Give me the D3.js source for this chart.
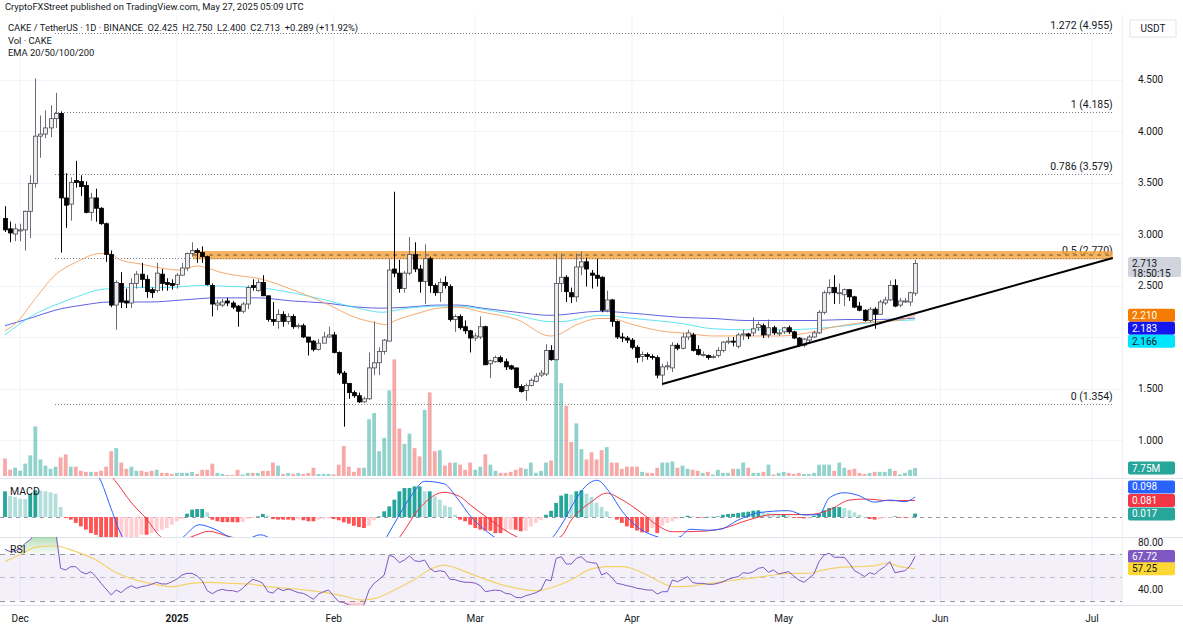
<!DOCTYPE html>
<html><head><meta charset="utf-8">
<script src="https://cdn.jsdelivr.net/npm/d3@7"></script>
<style>
body{margin:0;background:#fff;}
svg{display:block;font-family:Roboto,"Noto Sans",sans-serif;}
</style></head><body>
<svg id="c" width="1183" height="633"></svg>
<script>
// ---------------- DATA ----------------
const startDate = "2024-11-28"; // first daily candle
const opens = [3.15,3.05,3.00,3.03,3.04,3.22,3.49,3.95,3.97,4.03,
4.12,4.17,3.35,3.29,3.52,3.51,3.47,3.21,3.35,3.25,
3.10,2.80,2.31,2.52,2.35,2.33,2.52,2.61,2.56,2.46,
2.45,2.61,2.53,2.52,2.51,2.60,2.67,2.81,2.84,2.82,
2.78,2.50,2.31,2.31,2.35,2.33,2.30,2.25,2.32,2.50,
2.45,2.53,2.40,2.17,2.15,2.22,2.15,2.20,2.10,2.11,
2.00,1.96,1.88,1.94,2.00,2.02,1.85,1.65,1.55,1.46,
1.43,1.37,1.40,1.70,1.75,1.86,1.96,2.66,2.62,2.47,
2.62,2.80,2.66,2.54,2.76,2.50,2.43,2.53,2.49,2.17,
2.20,2.10,2.06,1.99,2.00,2.10,1.74,1.76,1.80,1.76,
1.72,1.70,1.52,1.48,1.53,1.57,1.63,1.64,1.87,1.78,
2.52,2.58,2.43,2.39,2.68,2.73,2.62,2.60,2.58,2.26,
2.36,2.15,2.00,1.99,1.97,1.90,1.81,1.83,1.81,1.80,
1.63,1.71,1.70,1.92,1.89,2.00,2.02,1.88,1.83,1.82,
1.80,1.82,1.87,1.95,1.96,1.91,2.02,2.03,2.04,2.09,
2.11,2.02,2.09,2.04,2.05,2.09,2.05,1.99,1.92,1.97,
2.00,2.04,2.24,2.43,2.48,2.43,2.41,2.46,2.39,2.30,
2.26,2.16,2.27,2.22,2.33,2.36,2.50,2.31,2.35,2.34,2.425];
const highs = [3.27,3.12,3.10,3.10,3.23,3.57,4.51,4.15,4.20,4.25,
4.37,4.19,3.59,3.55,3.71,3.57,3.51,3.40,3.44,3.26,
3.11,2.84,2.55,2.63,2.47,2.57,2.64,2.72,2.60,2.48,
2.72,2.66,2.57,2.56,2.62,2.72,2.82,2.92,2.86,2.88,
2.79,2.52,2.36,2.37,2.38,2.35,2.31,2.34,2.50,2.56,
2.56,2.60,2.40,2.34,2.27,2.25,2.23,2.22,2.13,2.13,
2.00,1.97,1.98,2.05,2.10,2.05,1.86,1.67,1.55,1.48,
1.46,1.42,1.85,2.15,1.90,1.98,2.76,3.41,2.75,2.64,
2.97,2.92,2.70,2.90,2.78,2.52,2.57,2.59,2.51,2.22,
2.22,2.16,2.07,2.04,2.20,2.11,1.78,1.82,1.82,1.79,
1.73,1.70,1.54,1.55,1.60,1.65,1.68,1.93,1.92,2.81,
2.81,2.60,2.48,2.81,2.83,2.77,2.65,2.76,2.59,2.45,
2.37,2.16,2.04,2.01,1.99,1.92,1.86,1.85,1.83,1.82,
1.74,1.76,1.95,1.94,2.04,2.07,2.04,1.92,1.86,1.83,
1.83,1.90,1.96,2.00,2.00,2.04,2.07,2.04,2.19,2.15,
2.13,2.17,2.11,2.07,2.10,2.11,2.06,2.00,1.99,2.02,
2.06,2.26,2.45,2.56,2.60,2.52,2.47,2.46,2.40,2.34,
2.27,2.29,2.29,2.36,2.39,2.55,2.56,2.38,2.38,2.44,2.75];
const lows = [3.02,2.92,2.93,2.93,2.84,2.96,3.45,3.74,3.93,3.94,
4.03,2.82,3.06,3.13,3.45,3.37,3.20,3.13,3.12,3.09,
2.73,2.29,2.07,2.28,2.28,2.28,2.47,2.48,2.38,2.38,
2.43,2.45,2.45,2.46,2.47,2.60,2.64,2.78,2.72,2.72,
2.50,2.20,2.26,2.29,2.30,2.27,2.10,2.23,2.27,2.45,
2.44,2.40,2.15,2.11,2.08,2.10,2.12,2.08,2.08,1.99,
1.82,1.86,1.87,1.94,1.99,1.84,1.63,1.13,1.40,1.41,
1.36,1.36,1.39,1.63,1.63,1.83,1.96,2.58,2.43,2.43,
2.60,2.63,2.43,2.32,2.43,2.40,2.34,2.47,2.15,2.05,
2.07,2.03,1.85,1.96,1.98,1.73,1.60,1.75,1.75,1.68,
1.68,1.50,1.46,1.38,1.52,1.56,1.61,1.62,1.77,1.77,
2.44,2.34,2.33,2.34,2.60,2.49,2.47,2.49,2.24,2.24,
2.10,1.98,1.95,1.94,1.88,1.75,1.76,1.78,1.78,1.60,
1.53,1.68,1.66,1.87,1.88,1.97,1.86,1.82,1.81,1.78,
1.79,1.80,1.85,1.93,1.91,1.89,1.97,1.98,2.01,2.06,
1.99,1.99,2.02,2.01,2.03,2.03,1.98,1.91,1.90,1.95,
1.99,2.03,2.22,2.41,2.32,2.32,2.30,2.35,2.28,2.25,
2.15,2.14,2.08,2.22,2.31,2.35,2.29,2.29,2.33,2.30,2.40];
const closes = [3.04,3.01,3.05,3.04,3.22,3.49,3.95,3.97,4.03,4.12,
4.17,3.35,3.28,3.50,3.50,3.46,3.21,3.35,3.25,3.10,
2.80,2.31,2.53,2.34,2.33,2.52,2.61,2.56,2.44,2.43,
2.62,2.52,2.51,2.50,2.60,2.67,2.81,2.84,2.82,2.78,
2.51,2.32,2.33,2.34,2.33,2.29,2.25,2.32,2.48,2.48,
2.53,2.40,2.17,2.15,2.22,2.15,2.20,2.10,2.11,2.00,
1.95,1.88,1.94,2.00,2.02,1.85,1.65,1.55,1.46,1.43,
1.37,1.40,1.70,1.75,1.86,1.97,2.65,2.62,2.47,2.62,
2.80,2.66,2.54,2.76,2.50,2.43,2.53,2.50,2.17,2.20,
2.09,2.06,1.99,2.01,2.10,1.73,1.77,1.80,1.76,1.71,
1.69,1.51,1.47,1.53,1.58,1.62,1.65,1.87,1.78,2.52,
2.58,2.44,2.39,2.68,2.73,2.66,2.60,2.57,2.26,2.36,
2.15,2.00,1.99,1.97,1.90,1.80,1.83,1.81,1.80,1.63,
1.71,1.72,1.92,1.89,2.00,2.04,1.87,1.83,1.83,1.80,
1.81,1.87,1.95,1.96,1.95,2.02,2.03,2.01,2.08,2.12,
2.02,2.09,2.04,2.04,2.09,2.05,1.99,1.92,1.98,2.00,
2.04,2.24,2.43,2.48,2.43,2.43,2.46,2.39,2.29,2.26,
2.16,2.27,2.22,2.34,2.36,2.50,2.30,2.35,2.35,2.43,2.713];
const volumes = [17,6,8,5,12,20,48,16,10,7,
9,18,21,9,9,5,4,4,4,5,
9,24,27,13,7,9,5,5,4,5,
6,3,3,2,3,3,3,4,2,6,
6,12,3,2,1,1,6,1.5,3,3,
3,5,5,13,10,2,3,2,3,2,
3,8,2,2,2,1.5,11,29,9,4,
8,8,55,61,24,37,83,113,46,31,
41,27,19,64,81,24,25,10,13,13,
11,6,13,6,9,21,11,5,3,3,
4,6,8,7,13,3,5,13,15,113,
90,68,33,51,26,16,23,16,25,28,
13,13,7,9,9,9,4,3,3,8,
13,13,14,8,10,7,6,5,3,4,
1.5,6,3,3,7,7,13,8,3,3,
4,11,1.5,3,4,3,2,3,2,2,
3,11,11,11,5,13,8,6,7,3,
2,3,4,4,4,7,5,1.5,3,6,7.75];
const macdHist = [0.126,0.104,0.098,0.09,0.088,0.114,0.131,0.13,0.126,0.121,
0.114,0.049,-0.005,-0.013,-0.029,-0.046,-0.062,-0.079,-0.087,-0.11,
-0.12,-0.13,-0.13,-0.12,-0.115,-0.11,-0.105,-0.087,-0.087,-0.079,
-0.07,-0.062,-0.054,-0.038,-0.021,-0.01,0.016,0.036,0.039,0.039,
0.023,-0.013,-0.021,-0.025,-0.025,-0.025,-0.026,-0.025,-0.01,-0.005,
0.003,0.015,0.006,-0.01,-0.013,-0.013,-0.013,-0.016,-0.01,-0.016,
-0.021,-0.021,-0.013,-0.01,-0.007,-0.01,-0.016,-0.026,-0.033,-0.043,
-0.049,-0.054,-0.043,-0.016,0.003,0.028,0.052,0.085,0.126,0.142,
0.142,0.15,0.15,0.126,0.126,0.101,0.085,0.056,0.049,0.011,
-0.013,-0.021,-0.038,-0.054,-0.062,-0.067,-0.067,-0.079,-0.079,-0.07,
-0.062,-0.062,-0.07,-0.067,-0.046,-0.029,-0.016,0.011,0.03,0.069,
0.105,0.114,0.11,0.126,0.131,0.114,0.098,0.069,0.049,0.028,
0.0,-0.013,-0.029,-0.046,-0.054,-0.066,-0.075,-0.075,-0.054,-0.079,
-0.043,-0.029,-0.021,-0.01,0.0,0.006,0.003,-0.001,-0.001,0.001,
0.001,0.003,0.011,0.015,0.016,0.02,0.023,0.026,0.031,0.033,
0.023,0.02,0.016,0.011,0.011,0.006,-0.003,-0.005,-0.007,-0.003,
0.006,0.015,0.033,0.044,0.049,0.049,0.044,0.033,0.023,0.011,
0.0,-0.01,-0.013,-0.01,-0.005,-0.002,0.003,-0.002,-0.003,-0.002,0.017];
const rsiValues = [73.8,71.8,72.5,74.6,78.9,82,88,86,87,89,
90,57.6,56.2,59,59,54.7,52.8,54.7,50.5,44.8,
40,34.9,39.1,36.9,40.6,42.8,40.6,42,42.8,44,
45.7,44.3,44.3,46.2,48.5,51.9,53.3,53.3,51.1,47,
38.6,36,38.6,39.7,38.6,38.6,37.5,40.6,44.8,48.2,
47,44.8,37.7,36.5,40.6,38.6,40,38.6,36.9,36.3,
34,31.2,35.7,37.7,39.1,34,29.2,28.4,26.4,25.5,
24.4,26.5,39.1,44.8,48.2,51.9,68.9,67,62.4,64.7,
68.1,64.1,63.3,64.7,57.6,54.7,55.5,54.7,48.2,48,
46.5,45.7,45.7,45,42.8,37.7,38.5,39.1,38.6,36.3,
35.7,32.9,32.5,34.3,35.5,36.9,39.1,48,47,66,
67.5,61.3,61.3,66.1,67.5,63.3,62.4,61.9,51.9,53.9,
49.9,44.8,44,42.8,42,40.6,40,39.1,39.1,35.7,
37.7,37.7,47.7,46.2,48.2,50.5,45.5,44.8,44.8,44,
44,44.8,46.2,48.2,49.6,50.5,53.9,53.3,54.7,57.6,
58.4,54.2,56.2,52.8,53.9,54.7,51.1,47.7,45.7,49.1,
52.8,63.3,68.9,70.4,67,67,67,61.9,55.6,53.3,
50.5,53.9,52.5,56.2,59,63.3,53.9,54.7,55.6,59.6,67.72];
// sampled indicator lines: [candle index, value]
const macdLine = [[0,0.30],[5,0.38],[10,0.42],[14,0.36],[17,0.26],[19,0.175],[21,0.04],[23.2,-0.097],[26,-0.16],[30,-0.17],[33,-0.14],[35.3,-0.097],[38.4,-0.038],[41.5,-0.06],[44.4,-0.097],[47.5,-0.11],[50.5,-0.087],[53,-0.11],[57,-0.14],[62,-0.19],[67,-0.26],[71,-0.27],[73.5,-0.18],[75.5,-0.097],[78,0.01],[80.5,0.11],[83,0.175],[86.8,0.163],[89.5,0.09],[92.1,0.003],[96.7,-0.097],[100,-0.15],[104,-0.16],[108.4,-0.097],[110.5,-0.02],[112.5,0.07],[114.8,0.15],[117.1,0.18],[119.5,0.124],[122,0.03],[125,-0.047],[129,-0.097],[131,-0.11],[133.5,-0.097],[135.5,-0.06],[139,-0.065],[141.5,-0.06],[145,-0.015],[149,0.021],[155,0.031],[158,0.01],[161,0.012],[163,0.093],[166,0.119],[168.5,0.108],[172,0.073],[175,0.083],[178,0.075],[180,0.098]];
const signalLine = [[0,0.22],[6,0.30],[11,0.34],[15,0.32],[19,0.25],[21.7,0.18],[25,0.07],[28,-0.01],[30.8,-0.097],[33,-0.12],[36.9,-0.097],[40.3,-0.07],[44.4,-0.097],[50,-0.115],[56,-0.13],[62,-0.17],[68,-0.21],[72,-0.22],[75,-0.19],[78.1,-0.097],[82.3,0.052],[86.8,0.121],[89.9,0.101],[92,0.06],[95.9,-0.013],[101.2,-0.097],[105,-0.125],[109.9,-0.097],[112,-0.015],[116,0.075],[119,0.117],[122,0.085],[126,0.018],[129,-0.04],[132,-0.072],[135,-0.072],[139,-0.068],[142,-0.056],[147,-0.015],[152,0.012],[159,0.012],[163,0.034],[167,0.083],[170,0.088],[175,0.08],[180,0.081]];
const rsiMA = [[0,63.3],[2.8,68.9],[6.6,76],[10,76.6],[14,71.8],[18,64.7],[21.7,54.7],[25.5,48.2],[29.3,44.3],[33,42],[36.9,44.8],[40.6,45.7],[44.4,44.8],[48.2,44.3],[52,42],[55.8,40.6],[59.6,39.1],[63.4,36.9],[67.1,34],[70.5,30.6],[73.2,32],[77,39.1],[80.8,47.7],[84.5,57.6],[86.8,60.4],[89.9,56.7],[93.6,50.5],[97.4,44.8],[101.2,40.6],[105,38.6],[109,42.5],[112.5,49],[115.7,56.7],[119,59],[122.3,59],[125.6,54.7],[128.9,47.7],[132.2,42],[135.5,42.5],[138.8,44.3],[142.1,46.2],[145.4,48.2],[148.7,49.9],[152,51.9],[155.2,53.3],[158.6,53.3],[161.9,56.2],[165.2,58.4],[168.4,59],[171.7,59.6],[174.4,61.9],[177,59],[180,57.25]];
const emaOrange = [[0,2.06],[2.3,2.14],[5.5,2.34],[9.9,2.6],[14.2,2.73],[18.8,2.81],[20.8,2.81],[22.7,2.75],[26.7,2.71],[30.7,2.67],[34.6,2.65],[38,2.69],[40,2.67],[42.5,2.63],[45.5,2.6],[50,2.57],[56.8,2.46],[63.3,2.33],[69.8,2.18],[73.2,2.14],[75.2,2.12],[77.7,2.17],[81.7,2.23],[85.6,2.28],[89.6,2.29],[94.5,2.24],[101.3,2.17],[107.8,2.01],[109.2,2.02],[113.1,2.12],[117.7,2.18],[119.7,2.18],[124.2,2.12],[130.9,2.05],[134,2.04],[140,2.01],[146.8,2.01],[153.3,2.01],[159.8,2.05],[163.2,2.09],[169.7,2.14],[176.4,2.16],[180,2.21]];
const emaCyan = [[0,2.02],[5.5,2.21],[9.9,2.31],[14.2,2.39],[18.8,2.46],[25.3,2.48],[32,2.48],[38.6,2.5],[45.1,2.49],[50,2.48],[56.8,2.43],[63.3,2.36],[69.8,2.28],[74.6,2.24],[79.7,2.28],[85.6,2.3],[89.6,2.3],[94.5,2.27],[101.3,2.21],[107.8,2.15],[109.8,2.15],[117.7,2.21],[124.2,2.18],[134,2.13],[140,2.08],[146.8,2.07],[153.3,2.07],[159.8,2.08],[166.5,2.11],[173,2.15],[180,2.166]];
const emaBlue = [[0,2.11],[5.5,2.19],[9.9,2.26],[15.4,2.31],[20.8,2.34],[28.7,2.34],[35.2,2.36],[41.9,2.38],[50,2.38],[56.8,2.35],[63.3,2.33],[69.8,2.29],[74.6,2.28],[79.7,2.29],[85.6,2.31],[89.6,2.31],[94.5,2.28],[101.3,2.24],[107.8,2.21],[117.7,2.25],[124.2,2.23],[134,2.19],[140,2.18],[146.8,2.16],[153.3,2.16],[159.8,2.16],[166.5,2.17],[173,2.17],[180,2.183]];
const emaLabels = [["2.210",2.210,"#f57c00","#fff"],["2.183",2.183,"#1515f0","#fff"],["2.166",2.166,"#00e5ff","#131722"]];
const fibLevels = [["1.272",4.955],["1",4.185],["0.786",3.579],["0.5",2.770],["0",1.354]];
const fibSpan = [9.9, 219.1];          // candle index range of the fib drawing
const zone = {from:37.2, to:219.1, low:2.754, high:2.835, mid:2.796};
const trendline = [[130,1.544],[219.1,2.767]];
const priceTicks = [1.0,1.5,2.0,2.5,3.0,3.5,4.0,4.5];
const rsiTicks = [40,60,80];
const rsiLevels = [70,50,30];
const header = ["CryptoFXStreet published on TradingView.com, May 27, 2025 05:09 UTC",
  "CAKE / TetherUS · 1D · BINANCE  O2.425  H2.750  L2.400  C2.713  +0.289 (+11.92%)",
  "Vol · CAKE","EMA 20/50/100/200"];
const countdown = "18:50:15";
const volumeLabel = "7.75M";
const macdLabels = [["0.098",0.098,"#2962ff"],["0.081",0.081,"#f23645"],["0.017",0.017,"#26a69a"]];
const rsiLabels = [["67.72",67.72,"#7e57c2","#fff"],["57.25",57.25,"#fdd835","#131722"]];

// ---------------- LAYOUT ----------------
const plotR = 1122, axisX = 1138;
const P = {top:15,bottom:478}, M = {top:478,bottom:537}, R = {top:537,bottom:605};
const svg = d3.select("#c");
const t0 = d3.utcParse("%Y-%m-%d")(startDate);
const n = closes.length;
const dateAt = i => new Date(t0.getTime() + i*864e5);
const x = d3.scaleUtc().domain([dateAt(0), dateAt(n-1)]).range([5, 915.1]);
const xi = i => x(dateAt(i));
const yP = d3.scaleLinear().domain([1,4.5]).range([440,79.5]);
const yV = d3.scaleLinear().domain([0,100]).range([476,372.8]);
const yM = d3.scaleLinear().domain([0,0.1]).range([517,496.6]);
const yR = d3.scaleLinear().domain([40,80]).range([589,542]);
const ink = "#131722";

const defs = svg.append("defs");
function clip(id,y0,y1){defs.append("clipPath").attr("id",id).append("rect").attr("x",0).attr("y",y0).attr("width",plotR).attr("height",y1-y0);}
clip("cp",P.top,P.bottom); clip("cm",M.top,M.bottom); clip("cr",R.top,R.bottom);
const gg = defs.append("linearGradient").attr("id","gob").attr("x1",0).attr("x2",0).attr("y1",0).attr("y2",1);
gg.append("stop").attr("offset","0%").attr("stop-color","#4caf50").attr("stop-opacity",0.55);
gg.append("stop").attr("offset","100%").attr("stop-color","#4caf50").attr("stop-opacity",0.05);
const gr = defs.append("linearGradient").attr("id","gos").attr("x1",0).attr("x2",0).attr("y1",0).attr("y2",1);
gr.append("stop").attr("offset","0%").attr("stop-color","#f23645").attr("stop-opacity",0.05);
gr.append("stop").attr("offset","100%").attr("stop-color","#f23645").attr("stop-opacity",0.45);

// grid
const months = d3.utcMonth.range(d3.utcMonth.ceil(dateAt(0)), new Date(Date.UTC(2025,6,2)));
svg.append("g").selectAll("line").data(months).join("line")
  .attr("x1",d=>x(d)).attr("x2",d=>x(d)).attr("y1",P.top).attr("y2",R.bottom)
  .attr("stroke","#f0f3fa").attr("stroke-width",1);
svg.append("g").selectAll("line").data(priceTicks).join("line")
  .attr("x1",0).attr("x2",plotR).attr("y1",d=>Math.round(yP(d))+0.5).attr("y2",d=>Math.round(yP(d))+0.5)
  .attr("stroke","#f0f3fa");
// pane separators
[M.top,R.top,R.bottom].forEach(y=>svg.append("line").attr("x1",0).attr("x2",1183).attr("y1",y+0.5).attr("y2",y+0.5).attr("stroke","#e0e3eb"));
svg.append("line").attr("x1",plotR+0.5).attr("x2",plotR+0.5).attr("y1",P.top).attr("y2",R.bottom).attr("stroke","#eef0f4");

// ---------- price pane ----------
const gp = svg.append("g").attr("clip-path","url(#cp)");
// volume
gp.append("g").selectAll("rect").data(volumes).join("rect")
  .attr("x",(d,i)=>xi(i)-1.9).attr("width",3.8)
  .attr("y",d=>yV(d)).attr("height",d=>yV(0)-yV(d))
  .attr("fill",(d,i)=>closes[i]>=opens[i]?"#26a69a":"#ef5350").attr("fill-opacity",0.5);
// fib lines
const gf = gp.append("g");
gf.selectAll("line").data(fibLevels).join("line")
  .attr("x1",xi(fibSpan[0])).attr("x2",xi(fibSpan[1]))
  .attr("y1",d=>Math.round(yP(d[1]))+0.5).attr("y2",d=>Math.round(yP(d[1]))+0.5)
  .attr("stroke","#787b86").attr("stroke-dasharray","1,2");
// resistance zone
gp.append("rect").attr("x",xi(zone.from)).attr("width",xi(zone.to)-xi(zone.from))
  .attr("y",yP(zone.high)).attr("height",yP(zone.low)-yP(zone.high))
  .attr("fill","#f7a23a").attr("fill-opacity",0.8);
gp.append("line").attr("x1",xi(zone.from)).attr("x2",xi(zone.to))
  .attr("y1",yP(zone.mid)).attr("y2",yP(zone.mid))
  .attr("stroke","#6b5530").attr("stroke-dasharray","4,4").attr("stroke-width",1);
gp.append("line").attr("x1",xi(zone.from)).attr("x2",xi(zone.to))
  .attr("y1",Math.round(yP(2.770))+0.5).attr("y2",Math.round(yP(2.770))+0.5)
  .attr("stroke","#787b86").attr("stroke-dasharray","1,2");
gf.selectAll("text").data(fibLevels).join("text")
  .attr("x",xi(fibSpan[1])).attr("y",d=>yP(d[1])-4).attr("text-anchor","end")
  .attr("font-size",10.5).attr("fill",ink).text(d=>`${d[0]} (${d[1].toFixed(3)})`);
// EMAs
const lineP = d3.line().x(d=>xi(d[0])).y(d=>yP(d[1])).curve(d3.curveMonotoneX);
[[emaBlue,"#3b3bd6",0.8],[emaCyan,"#38dff0",0.8],[emaOrange,"#f5a15f",0.9]].forEach(([d,c,o])=>
  gp.append("path").attr("d",lineP(d)).attr("fill","none").attr("stroke",c).attr("stroke-opacity",o).attr("stroke-width",1));
// candles
const gc = gp.append("g");
const idx = d3.range(n);
gc.selectAll("line").data(idx).join("line")
  .attr("x1",i=>Math.round(xi(i))+0.5).attr("x2",i=>Math.round(xi(i))+0.5)
  .attr("y1",i=>yP(highs[i])).attr("y2",i=>yP(lows[i]))
  .attr("stroke",i=>closes[i]>=opens[i]?"#6a6d75":"#000").attr("stroke-width",1);
gc.selectAll("rect").data(idx).join("rect")
  .attr("x",i=>Math.round(xi(i))-1.5).attr("width",4)
  .attr("y",i=>yP(Math.max(opens[i],closes[i])))
  .attr("height",i=>Math.max(1,Math.abs(yP(opens[i])-yP(closes[i]))))
  .attr("fill",i=>closes[i]>=opens[i]?"#ececee":"#000")
  .attr("stroke",i=>closes[i]>=opens[i]?"#4a4c52":"#000").attr("stroke-width",0.8);
// trendline
gp.append("line").attr("x1",xi(trendline[0][0])).attr("y1",yP(trendline[0][1]))
  .attr("x2",xi(trendline[1][0])).attr("y2",yP(trendline[1][1]))
  .attr("stroke","#000").attr("stroke-width",2);

// ---------- MACD pane ----------
const gm = svg.append("g").attr("clip-path","url(#cm)");
gm.append("line").attr("x1",0).attr("x2",plotR).attr("y1",yM(0)+0.5).attr("y2",yM(0)+0.5)
  .attr("stroke","#9598a1").attr("stroke-dasharray","4,4");
gm.selectAll("rect").data(macdHist).join("rect")
  .attr("x",(d,i)=>xi(i)-1.9).attr("width",3.8)
  .attr("y",d=>Math.min(yM(d),yM(0))).attr("height",d=>Math.max(0.6,Math.abs(yM(d)-yM(0))))
  .attr("fill",(d,i)=>{const p=i?macdHist[i-1]:d; return d>=0?(d>=p?"#26a69a":"#b2dfdb"):(d<=p?"#ff5252":"#ffcdd2");});
const lineM = d3.line().x(d=>xi(d[0])).y(d=>yM(d[1])).curve(d3.curveMonotoneX);
gm.append("path").attr("d",lineM(signalLine)).attr("fill","none").attr("stroke","#f23645").attr("stroke-width",1);
gm.append("path").attr("d",lineM(macdLine)).attr("fill","none").attr("stroke","#2962ff").attr("stroke-width",1);
svg.append("text").attr("x",10).attr("y",M.top+17).attr("font-size",10.5).attr("fill",ink).text("MACD");

// ---------- RSI pane ----------
const gR = svg.append("g").attr("clip-path","url(#cr)");
gR.append("rect").attr("x",0).attr("width",plotR).attr("y",yR(70)).attr("height",yR(30)-yR(70))
  .attr("fill","#7e57c2").attr("fill-opacity",0.09);
gR.selectAll("line").data(rsiLevels).join("line")
  .attr("x1",0).attr("x2",plotR).attr("y1",d=>Math.round(yR(d))+0.5).attr("y2",d=>Math.round(yR(d))+0.5)
  .attr("stroke","#9598a1").attr("stroke-opacity",d=>d===50?0.6:1).attr("stroke-dasharray","5,5");
const rsiPts = rsiValues.map((v,i)=>[i,v]);
gR.append("path").attr("d",d3.area().x(d=>xi(d[0])).y0(yR(70)).y1(d=>yR(Math.max(70,d[1])))(rsiPts)).attr("fill","url(#gob)");
gR.append("path").attr("d",d3.area().x(d=>xi(d[0])).y0(yR(30)).y1(d=>yR(Math.min(30,d[1])))(rsiPts)).attr("fill","url(#gos)");
gR.append("path").attr("d",d3.line().x(d=>xi(d[0])).y(d=>yR(d[1])).curve(d3.curveMonotoneX)(rsiMA))
  .attr("fill","none").attr("stroke","#f3d36a").attr("stroke-width",1.2);
gR.append("path").attr("d",d3.line().x(d=>xi(d[0])).y(d=>yR(d[1]))(rsiPts))
  .attr("fill","none").attr("stroke","#7e57c2").attr("stroke-width",1);
svg.append("text").attr("x",10).attr("y",R.top+16).attr("font-size",10.5).attr("fill",ink).text("RSI");

// ---------- header ----------
const hy = [10,31,44,56];
header.forEach((t,k)=>svg.append("text").attr("x",k?8:5).attr("y",hy[k]).attr("font-size",9.4).attr("fill",ink).attr("xml:space","preserve").text(t));

// ---------- right axis ----------
function box(cy,txt,bg,fg,lines){
  const h = lines? 20 : 13;
  svg.append("rect").attr("x",plotR+6).attr("y",cy-6.5).attr("width",lines?53:47).attr("height",h).attr("rx",2).attr("fill",bg);
  svg.append("text").attr("x",plotR+10).attr("y",cy+3.5).attr("font-size",10).attr("fill",fg).text(txt);
  if(lines) svg.append("text").attr("x",plotR+10).attr("y",cy+13).attr("font-size",10).attr("fill",fg).text(lines);
  return [cy-6.5, cy-6.5+h];
}
const occupied = [];
const lastC = closes[n-1];
occupied.push(box(yP(lastC),lastC.toFixed(3),"#d1d4dc",ink,countdown));
let prev = -1e9;
emaLabels.forEach(([t,v,bg,fg])=>{const cy=Math.max(yP(v),prev+13); prev=cy; occupied.push(box(cy,t,bg,fg));});
priceTicks.forEach(v=>{const y=yP(v); if(occupied.some(([a,b])=>y>a-5&&y<b+5)) return;
  svg.append("text").attr("x",axisX).attr("y",y+3.5).attr("font-size",10).attr("fill",ink).text(v.toFixed(3));});
svg.append("rect").attr("x",plotR+8).attr("y",20).attr("width",46).attr("height",17).attr("fill","#fff").attr("stroke","#e0e3eb");
svg.append("text").attr("x",plotR+31).attr("y",32).attr("text-anchor","middle").attr("font-size",10).attr("fill",ink).text("USDT");
box(yV(volumes[n-1]),volumeLabel,"#26a69a","#fff");
const sigY = yM(macdLabels[1][1]);
const mY = Math.min(yM(macdLabels[0][1]), sigY-13.5);
const hY = Math.max(yM(macdLabels[2][1]), sigY+13.5);
[[mY,0],[sigY,1],[hY,2]].forEach(([cy,k])=>box(cy,macdLabels[k][0],macdLabels[k][2],"#fff"));
const occR=[];
rsiLabels.forEach(([t,v,bg,fg])=>occR.push(box(yR(v),t,bg,fg)));
rsiTicks.forEach(v=>{const y=yR(v); if(occR.some(([a,b])=>y>a-5&&y<b+5)) return;
  svg.append("text").attr("x",axisX).attr("y",y+3.5).attr("font-size",10).attr("fill",ink).text(v.toFixed(2));});

// ---------- time axis ----------
svg.append("g").selectAll("text").data(months).join("text")
  .attr("x",d=>x(d)).attr("y",622).attr("text-anchor","middle").attr("font-size",10).attr("fill",ink)
  .attr("font-weight",d=>d.getUTCMonth()===0?"bold":"normal")
  .text(d=>d.getUTCMonth()===0?d3.utcFormat("%Y")(d):d3.utcFormat("%b")(d));
</script></body></html>
